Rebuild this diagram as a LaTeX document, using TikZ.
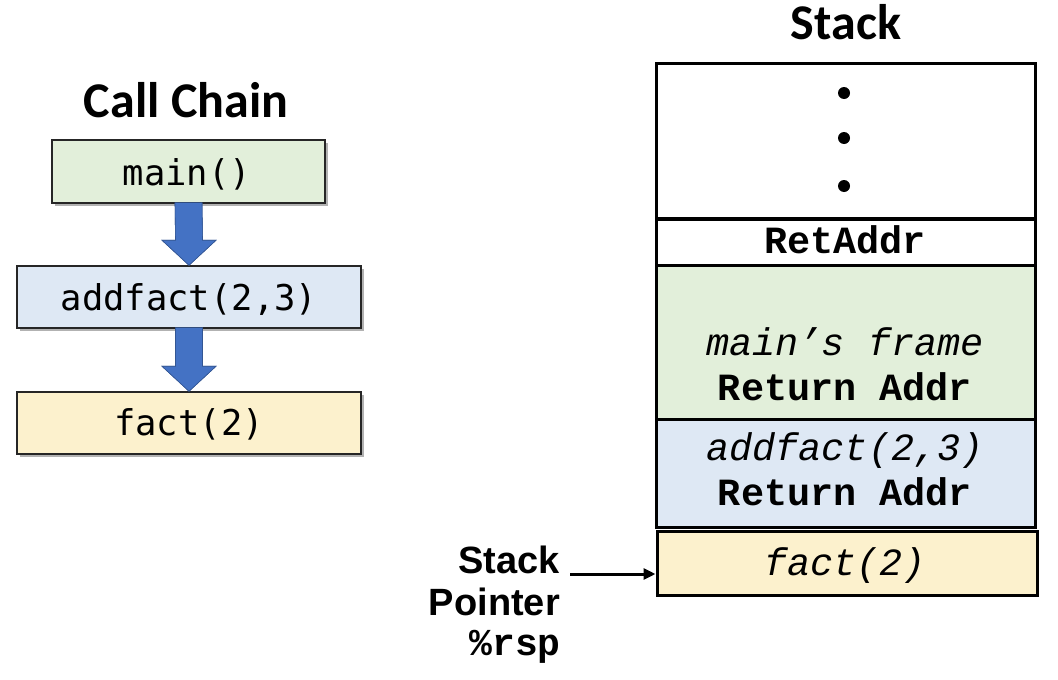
\documentclass[tikz,border=0pt]{standalone}
\usepackage{fontspec}
\usetikzlibrary{arrows.meta,shadows,calc}
\newfontfamily\calibf{Carlito}
\newfontfamily\courf{Liberation Mono}
\newfontfamily\consf{DejaVu Sans Mono}
\newfontfamily\arialf{Liberation Sans}
\definecolor{cgreen}{HTML}{E2EFDA}
\definecolor{cblue}{HTML}{DEE8F4}
\definecolor{cyellow}{HTML}{FCF1CD}
\definecolor{arrowblue}{HTML}{4472C4}
\begin{document}
\begin{tikzpicture}[x=1pt,y=-1pt,
  chainbox/.style={draw=black!85, line width=1.5pt, fill=#1, inner sep=0pt,
    drop shadow={shadow xshift=3pt, shadow yshift=-3pt, opacity=0.3, fill=black}},
  chaintext/.style={font=\consf\fontsize{35.5}{40}\selectfont, anchor=base, inner sep=0pt},
  title/.style={font=\calibf\bfseries\fontsize{50}{60}\selectfont, anchor=base, inner sep=0pt},
  cell/.style={draw=black, line width=3pt, fill=#1, inner sep=0pt},
  sbold/.style={font=\courf\bfseries\fontsize{38.5}{44}\selectfont, anchor=base, inner sep=0pt},
  sital/.style={font=\courf\itshape\fontsize{38.5}{44}\selectfont, anchor=base, inner sep=0pt},
  splab/.style={font=\arialf\bfseries\fontsize{38}{44}\selectfont, anchor=base east, inner sep=0pt},
  blockarrow/.style={fill=arrowblue, draw=arrowblue!75!black, line width=0.6pt}
]
\useasboundingbox (0,0) rectangle (1058,680);

% ---- Call chain ----
\node[title] (cctitle) at (186,117) {Call Chain};
\node[chainbox=cgreen, minimum width=273pt, minimum height=63pt] (main) at (188.5,171.5) {};
\node[chainbox=cblue, minimum width=344pt, minimum height=62pt] (addf) at (189,297) {};
\node[chainbox=cyellow, minimum width=344pt, minimum height=62pt] (fact) at (189,423) {};
\node[chaintext] (maint) at (187,185) {main()};
\node[chaintext] (addft) at (189,310) {addfact(2,3)};
\node[chaintext] (factt) at (189,435) {fact(2)};

\fill[blockarrow] ($(main.south)+(-13.5,-1)$) -- ($(addf.north)+(-13.5,-25)$) -- ($(addf.north)+(-27,-25)$)
  -- (addf.north) -- ($(addf.north)+(27,-25)$) -- ($(addf.north)+(13.5,-25)$) -- ($(main.south)+(13.5,-1)$) -- cycle;
\fill[blockarrow] ($(addf.south)+(-13.5,-1)$) -- ($(fact.north)+(-13.5,-25)$) -- ($(fact.north)+(-27,-25)$)
  -- (fact.north) -- ($(fact.north)+(27,-25)$) -- ($(fact.north)+(13.5,-25)$) -- ($(addf.south)+(13.5,-1)$) -- cycle;
\draw[blockarrow] ($(main.south)+(-13.5,-1)$) -- ($(addf.north)+(-13.5,-25)$) -- ($(addf.north)+(-27,-25)$)
  -- (addf.north) -- ($(addf.north)+(27,-25)$) -- ($(addf.north)+(13.5,-25)$) -- ($(main.south)+(13.5,-1)$);
\draw[blockarrow] ($(addf.south)+(-13.5,-1)$) -- ($(fact.north)+(-13.5,-25)$) -- ($(fact.north)+(-27,-25)$)
  -- (fact.north) -- ($(fact.north)+(27,-25)$) -- ($(fact.north)+(13.5,-25)$) -- ($(addf.south)+(13.5,-1)$);

% ---- Stack ----
\node[title] (sttitle) at (846,39) {Stack};
\node[cell=white, minimum width=379pt, minimum height=155pt] (topcell) at (845.5,140.5) {};
\node[cell=white, minimum width=379pt, minimum height=46pt] (retcell) at (845.5,242) {};
\node[cell=cgreen, minimum width=379pt, minimum height=154pt] (maincell) at (845.5,342) {};
\node[cell=cblue, minimum width=379pt, minimum height=108pt] (addfcell) at (845.5,473) {};
\node[cell=cyellow, minimum width=380pt, minimum height=64pt] (factcell) at (847,563) {};

\fill (844,93) circle (6);
\fill (844,138) circle (6);
\fill (844,186) circle (6);

\node[sbold] (rett) at (845,253) {RetAddr};
\node[sital] (mft) at (845,355) {main’s frame};
\node[sbold] (ra1) at (845,400) {Return Addr};
\node[sital] (aft) at (845,460) {addfact(2,3)};
\node[sbold] (ra2) at (845,505) {Return Addr};
\node[sital] (fct) at (845,575) {fact(2)};

% ---- Stack pointer ----
\node[splab] (spl1) at (560,573) {Stack};
\node[splab] (spl2) at (560,615) {Pointer};
\node[font=\courf\bfseries\fontsize{38}{44}\selectfont, anchor=base east, inner sep=0pt] (spl3) at (561,655) {\%rsp};
\coordinate (spstart) at (570,574);
\draw[line width=3pt, -{Triangle[length=12pt,width=11pt]}] (spstart) -- (factcell.west |- spstart);
\end{tikzpicture}
\end{document}
